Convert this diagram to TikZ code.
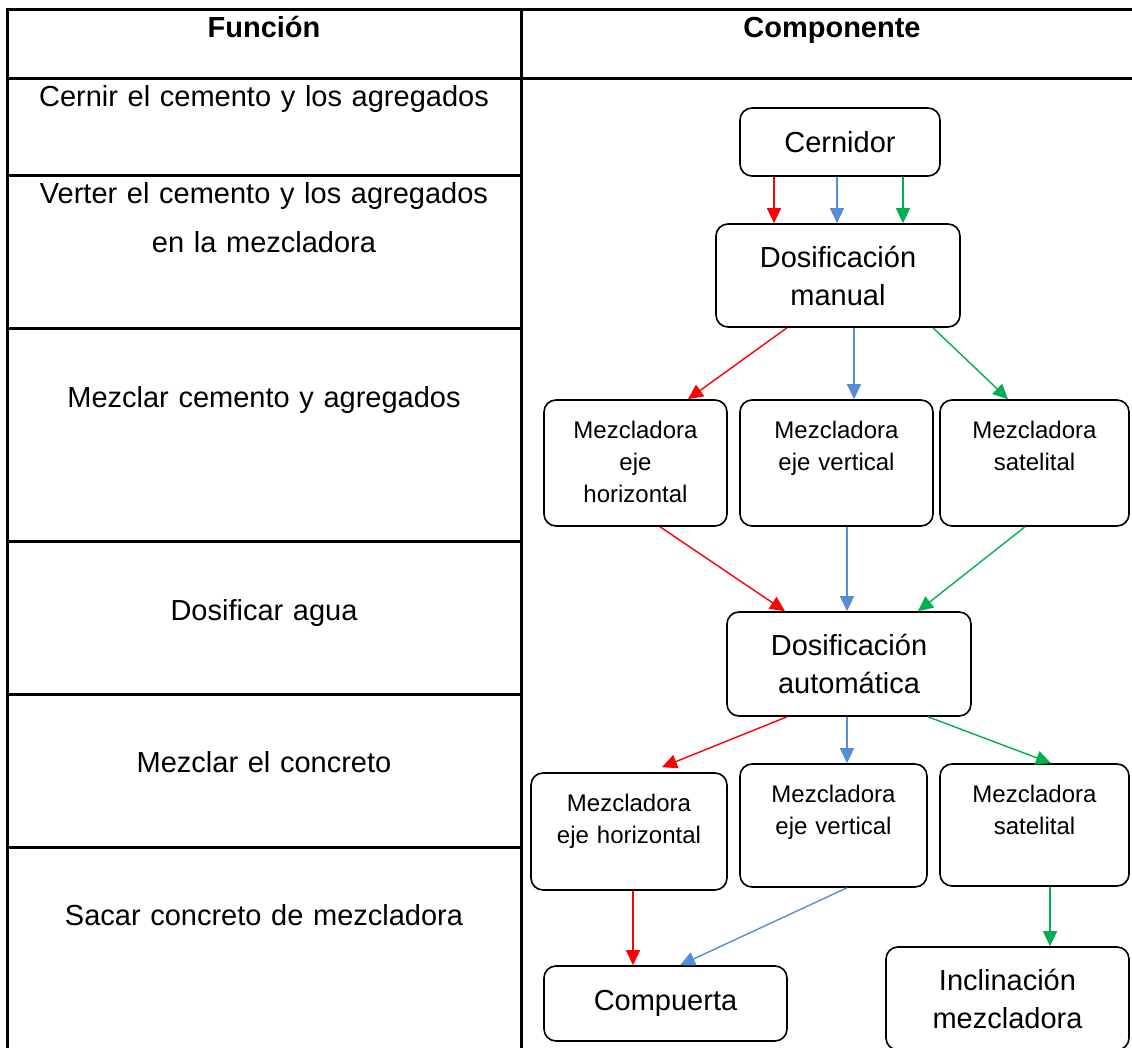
\documentclass[tikz,border=0pt]{standalone}
\usepackage{fontspec}
\setmainfont{Liberation Sans}
\usetikzlibrary{arrows.meta}
\definecolor{rojo}{RGB}{255,0,0}
\definecolor{azul}{RGB}{85,142,213}
\definecolor{verde}{RGB}{0,176,80}

\begin{document}
\begin{tikzpicture}[x=1pt, y=-1pt,
    titulo/.style={anchor=base, font=\bfseries\fontsize{29}{35}\selectfont},
    celda/.style={anchor=base, inner sep=0pt, text width=480pt, align=center, font=\fontsize{29}{49}\selectfont},
    caja/.style={draw, line width=1.6pt, rounded corners=12pt, align=center, font=\fontsize{29}{38}\selectfont},
    cajita/.style={draw, line width=1.6pt, rounded corners=12pt, inner sep=0pt, align=center, text height=38pt, font=\fontsize{24}{32}\selectfont},
    flecha/.style={-{Triangle[length=15pt,width=14pt]}, line width=1.4pt},
    linea/.style={line width=3pt}]
  \useasboundingbox (0, 0) rectangle (1132, 1048);
  % tabla
  \draw [linea] (1132, 10) -- (7, 10) -- (7, 1048);
  \draw [linea] (521, 10) -- (521, 1048);
  \draw [linea] (7, 79) -- (1132, 79);
  \foreach \y in {176, 329, 541, 694, 847}
    \draw [linea] (7, \y) -- (521, \y);
  \node [titulo] (tfun) at (264, 38) {Función};
  \node [titulo] (tcomp) at (832, 38) {Componente};
  \node [celda] (f1) at (264, 107) {Cernir el cemento y los agregados};
  \node [celda] (f2) at (264, 204) {Verter el cemento y los agregados\\en la mezcladora};
  \node [celda] (f3) at (264, 407) {Mezclar cemento y agregados};
  \node [celda] (f4) at (264, 620) {Dosificar agua};
  \node [celda] (f5) at (264, 772) {Mezclar el concreto};
  \node [celda] (f6) at (264, 925) {Sacar concreto de mezcladora};
  % componentes
  \node [caja, minimum width=200pt, minimum height=68pt] (cern) at (840, 142) {Cernidor};
  \node [caja, minimum width=244pt, minimum height=103pt] (dosman) at (838, 275.5) {Dosificación\\manual};
  \node [cajita, text width=183pt, text depth=88pt] (mh1) at (635.5, 463) {Mezcladora\\eje\\horizontal};
  \node [cajita, text width=193pt, text depth=88pt] (mv1) at (836.5, 463) {Mezcladora\\eje vertical};
  \node [cajita, text width=189pt, text depth=88pt] (ms1) at (1034.5, 463) {Mezcladora\\satelital};
  \node [caja, minimum width=244pt, minimum height=104pt] (dosaut) at (849, 664) {Dosificación\\automática};
  \node [cajita, text width=196pt, text depth=79pt] (mh2) at (629, 831.5) {Mezcladora\\eje horizontal};
  \node [cajita, text width=187pt, text depth=85pt] (mv2) at (833.5, 825.5) {Mezcladora\\eje vertical};
  \node [cajita, text width=189pt, text depth=84pt] (ms2) at (1034.5, 825) {Mezcladora\\satelital};
  \node [caja, minimum width=243pt, minimum height=75pt] (comp) at (665.5, 1003.5) {Compuerta};
  \node [caja, minimum width=243pt, minimum height=103pt] (incl) at (1007.5, 998.5) {Inclinación\\mezcladora};
  % flechas
  \draw [flecha, rojo] ([xshift=-66pt]cern.south) -- ([xshift=-64pt]dosman.north);
  \draw [flecha, azul] ([xshift=-3pt]cern.south) -- ([xshift=-1pt]dosman.north);
  \draw [flecha, verde] ([xshift=63pt]cern.south) -- ([xshift=65pt]dosman.north);
  \draw [flecha, rojo] ([xshift=-51pt]dosman.south) -- ([xshift=52.5pt]mh1.north);
  \draw [flecha, azul] ([xshift=16pt]dosman.south) -- ([xshift=17.5pt]mv1.north);
  \draw [flecha, verde] ([xshift=95pt]dosman.south) -- ([xshift=-26.5pt]ms1.north);
  \draw [flecha, rojo] ([xshift=24.5pt]mh1.south) -- ([xshift=-64pt]dosaut.north);
  \draw [flecha, azul] ([xshift=10.5pt]mv1.south) -- ([xshift=-2pt]dosaut.north);
  \draw [flecha, verde] ([xshift=-9.5pt]ms1.south) -- ([xshift=69pt]dosaut.north);
  \draw [flecha, rojo] ([xshift=-62pt]dosaut.south) -- ([xshift=33pt,yshift=5pt]mh2.north);
  \draw [flecha, azul] ([xshift=-2pt]dosaut.south) -- ([xshift=13.5pt]mv2.north);
  \draw [flecha, verde] ([xshift=79pt]dosaut.south) -- ([xshift=16.5pt]ms2.north);
  \draw [flecha, rojo] ([xshift=4pt]mh2.south) -- ([xshift=-32.5pt]comp.north);
  \draw [flecha, azul] ([xshift=13.5pt]mv2.south) -- ([xshift=14.5pt]comp.north);
  \draw [flecha, verde] ([xshift=15.5pt]ms2.south) -- ([xshift=42.5pt]incl.north);
\end{tikzpicture}
\end{document}
